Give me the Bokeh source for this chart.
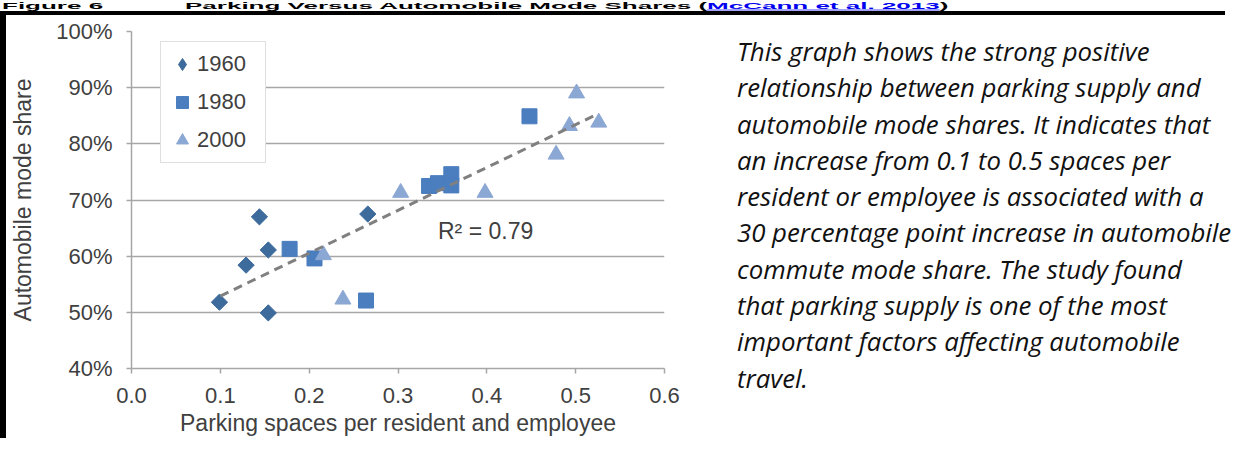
import numpy as np
from bokeh.plotting import figure
from bokeh.layouts import row, column
from bokeh.models import (Legend, LegendItem, Label, FixedTicker, Div,
                          PrintfTickFormatter, NumeralTickFormatter, Range1d)
from bokeh.embed import file_html
from bokeh.resources import INLINE

# ---------------- data ----------------
years = ["1960", "1980", "2000"]
x_1960 = [0.099, 0.129, 0.144, 0.154, 0.154, 0.266]
y_1960 = [51.8, 58.4, 67.0, 61.1, 49.9, 67.5]
x_1980 = [0.178, 0.206, 0.264, 0.335, 0.345, 0.360, 0.360, 0.448]
y_1980 = [61.3, 59.6, 52.1, 72.5, 73.0, 74.6, 72.6, 84.9]
x_2000 = [0.216, 0.238, 0.303, 0.398, 0.478, 0.493, 0.501, 0.526]
y_2000 = [60.2, 52.3, 71.3, 71.3, 78.1, 83.2, 89.0, 83.8]
trend_x = [0.100, 0.522]
trend_y = [52.9, 85.1]
r2_text = "R\u00b2 = 0.79"
x_ticks = [0.0, 0.1, 0.2, 0.3, 0.4, 0.5, 0.6]
y_ticks = [40, 50, 60, 70, 80, 90, 100]
x_title = "Parking spaces per resident and employee"
y_title = "Automobile mode share"
fig_number = "Figure 6"
fig_title = "Parking Versus Automobile Mode Shares"
fig_source = "McCann et al. 2013"
desc_lines = [
    "This graph shows the strong positive",
    "relationship between parking supply and",
    "automobile mode shares. It indicates that",
    "an increase from 0.1 to 0.5 spaces per",
    "resident or employee is associated with a",
    "30 percentage point increase in automobile",
    "commute mode share. The study found",
    "that parking supply is one of the most",
    "important factors affecting automobile",
    "travel.",
]

# ---------------- layout ----------------
W, H = 1225, 438
TITLE_H, BAR_H, LEFTBAR = 11, 4, 6
CH = H - TITLE_H - BAR_H          # chart / text row height
CW = 694                          # chart figure width
TW = W - LEFTBAR - CW             # text panel width
FL, FR, FT, FB = 125, 658, 16, 357   # chart frame edges inside chart figure
X0, X1, Y0, Y1 = 0.0, 0.6, 40.0, 100.0

FONT = "Liberation Sans"
TXT = "#404040"

p = figure(width=CW, height=CH, output_backend="svg", toolbar_location=None,
           x_range=Range1d(X0, X1), y_range=Range1d(Y0, Y1),
           min_border_left=FL, min_border_right=CW - FR,
           min_border_top=FT, min_border_bottom=CH - FB)
p.outline_line_color = None
p.background_fill_color = "white"
p.border_fill_color = "white"

for ax in (p.xaxis[0], p.yaxis[0]):
    ax.axis_line_color = "#a6a6a6"
    ax.axis_line_width = 1.5
    ax.major_tick_line_color = "#a6a6a6"
    ax.major_tick_line_width = 1.5
    ax.major_tick_out = 5
    ax.major_tick_in = 0
    ax.minor_tick_line_color = None
    ax.major_label_text_font = FONT
    ax.major_label_text_font_size = "22px"
    ax.major_label_text_color = TXT
    ax.axis_label_text_font = FONT
    ax.axis_label_text_font_size = "23px"
    ax.axis_label_text_font_style = "normal"
    ax.axis_label_text_color = TXT

p.xaxis.ticker = FixedTicker(ticks=x_ticks)
p.xaxis.formatter = NumeralTickFormatter(format="0.0")
p.xaxis.axis_label = x_title
p.xaxis.major_label_standoff = 14
p.xaxis.axis_label_standoff = 4

p.yaxis.ticker = FixedTicker(ticks=y_ticks)
p.yaxis.formatter = PrintfTickFormatter(format="%d%%")
p.yaxis.axis_label = y_title
p.yaxis.major_label_standoff = 14
p.yaxis.axis_label_standoff = 17

p.xgrid.grid_line_color = None
p.ygrid.ticker = FixedTicker(ticks=y_ticks)
p.ygrid.grid_line_color = "#a6a6a6"
p.ygrid.grid_line_width = 1.5

c1960, c1980, c2000 = "#3d6b9c", "#4a7ebf", "#8ba7d3"
# diamond used for the legend key (hidden beneath the rotated squares)
r1_key = p.scatter(x_1960, y_1960, marker="diamond", size=9,
                   fill_color=c1960, line_color=c1960)
r1 = p.scatter(x_1960, y_1960, marker="square", angle=np.pi / 4, size=11.5,
               fill_color=c1960, line_color=c1960)
r2 = p.scatter(x_1980, y_1980, marker="square", size=15,
               fill_color=c1980, line_color=c1980)
r3 = p.scatter(x_2000, y_2000, marker="triangle", size=16,
               fill_color=c2000, line_color=c2000)

p.line(trend_x, trend_y, line_color="#808080", line_width=3, line_dash="9 6")

p.add_layout(Label(x=0.345, y=64.4, text=r2_text, text_font=FONT,
                   text_font_size="23px", text_color=TXT, text_baseline="middle"))

legend = Legend(items=[LegendItem(label=years[0], renderers=[r1_key]),
                       LegendItem(label=years[1], renderers=[r2]),
                       LegendItem(label=years[2], renderers=[r3])],
                location=(29, 205), orientation="vertical")
legend.label_text_font = FONT
legend.label_text_font_size = "22px"
legend.label_text_color = TXT
legend.glyph_width = 30
legend.glyph_height = 32
legend.label_height = 32
legend.label_width = 62
legend.label_standoff = 0
legend.spacing = 6
legend.padding = 6
legend.margin = 0
legend.border_line_color = "#c0c0c0"
legend.border_line_width = 1.5
legend.background_fill_color = "white"
legend.background_fill_alpha = 1
p.add_layout(legend, "center")

# ---------------- description text ----------------
desc_html = (
    "<div style=\"font-family:'Open Sans',sans-serif;font-style:italic;"
    "font-size:25.8px;line-height:36.3px;color:#111111;white-space:nowrap;"
    "margin:18px 0 0 37px;padding:0;\">"
    + "<br>".join(desc_lines) + "</div>"
)
text_panel = Div(text=desc_html, width=TW, height=CH,
                 styles={"margin": "0", "padding": "0"})

# ---------------- document title strip (compressed to fit) and borders ----
title_html = (
    "<div style=\"position:relative;top:1px;height:26px;white-space:nowrap;"
    "transform:scaleY(0.36);transform-origin:0 0;"
    "font-family:'Liberation Sans',Arial,sans-serif;font-weight:bold;"
    "font-size:26px;line-height:26px;color:#000000;\">"
    "<span style=\"position:absolute;left:2px;top:0;\">" + fig_number + "</span>"
    "<span style=\"position:absolute;left:185px;top:0;\">" + fig_title + " ("
    "<span style=\"color:#0000ee;text-decoration:underline;\">" + fig_source
    + "</span>)</span></div>"
)
title_div = Div(text=title_html, width=W, height=TITLE_H,
                styles={"margin": "0", "padding": "0"})
top_bar = Div(text="", width=W, height=BAR_H,
              styles={"background-color": "black", "margin": "0", "padding": "0"})
left_bar = Div(text="", width=LEFTBAR, height=CH,
               styles={"background-color": "black", "margin": "0", "padding": "0"})

layout = column(title_div, top_bar, row(left_bar, p, text_panel, spacing=0),
                spacing=0)

open("out.html", "w").write(file_html(layout, INLINE))
